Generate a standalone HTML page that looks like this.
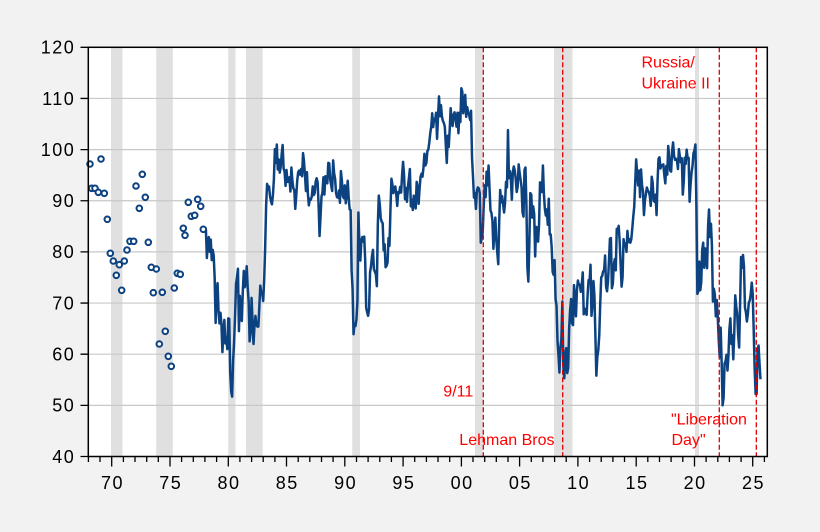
<!DOCTYPE html>
<html>
<head>
<meta charset="utf-8">
<style>
html,body{margin:0;padding:0;background:#f2f2f2;}
svg{display:block;}
text{font-family:"Liberation Sans",Arial,sans-serif;}
</style>
</head>
<body>
<svg width="820" height="532" viewBox="0 0 820 532" xmlns="http://www.w3.org/2000/svg">
<rect x="0" y="0" width="820" height="532" fill="#f2f2f2"/>
<rect x="88.3" y="47.3" width="679" height="409.2" fill="#ffffff"/>
<g fill="#e0e0e0">
<rect x="111" y="47.3" width="11.5" height="409.2"/>
<rect x="156.2" y="47.3" width="16.6" height="409.2"/>
<rect x="228.2" y="47.3" width="7.3" height="409.2"/>
<rect x="246" y="47.3" width="16.6" height="409.2"/>
<rect x="352.2" y="47.3" width="7.8" height="409.2"/>
<rect x="475" y="47.3" width="7.8" height="409.2"/>
<rect x="554" y="47.3" width="18.5" height="409.2"/>
<rect x="695" y="47.3" width="4" height="409.2"/>
</g>
<path stroke="#c8c8c8" stroke-width="1.2" fill="none" d="M88.3 98.45H767.3M88.3 149.6H767.3M88.3 200.75H767.3M88.3 251.9H767.3M88.3 303.05H767.3M88.3 354.2H767.3M88.3 405.35H767.3"/>
<polyline fill="none" stroke="#0d4281" stroke-width="2.5" stroke-linejoin="round" vector-effect="non-scaling-stroke" transform="matrix(0.97125 0 0 -5.115 204.94 661.1)" points="0,83.7 1,84.3 2,78.8 3,81.6 4,82.9 5,80 6,82.4 7,78.4 8,80.4 9,79.3 10,75 11,66.1 12,72.1 13,73.9 14,68.4 15,66 16,68.1 17,65.8 18,60.4 19,64.5 20,66.7 21,62.1 22,63.3 23,61 24,67 25,66.9 26,56.5 27,52.7 28,51.7 29,58.7 30,62.3 31,67.3 32,73.7 33,75 34,76.7 35,64.5 36,71.4 37,66.9 38,66.5 39,72.4 40,76.3 41,73.1 42,74.1 43,77.2 44,73.1 45,70.3 46,62.5 47,64.3 48,71 49,66.5 50,62 51,65.5 52,67.5 53,65.7 54,65.4 55,65.4 56,69.3 57,73.4 58,72.1 59,71.9 60,70.4 61,74.6 62,80.8 63,89.1 64,93.3 65,92.2 66,92.8 67,90.9 68,89.9 69,89.3 70,91.1 71,94.2 72,100.1 73,97.4 74,101 75,96.1 76,98.1 77,95.5 78,96.6 79,99.1 80,100.9 81,96.3 82,95.7 83,92.9 84,96 85,93.7 86,93.7 87,94.6 88,91.8 89,96.5 90,94 91,92.4 92,92.1 93,88.4 94,90.9 95,93.9 96,95.6 97,95.9 98,95.1 99,96.2 100,94.8 101,99.3 102,97.7 103,94.9 104,91.9 105,95.6 106,91.4 107,89.1 108,90.4 109,90.2 110,90.8 111,92.8 112,91.1 113,91.5 114,93.7 115,94.4 116,93.6 117,89.3 118,83.1 119,86.8 120,90.8 121,91.6 122,94.6 123,91.2 124,94.8 125,94.7 126,93.4 127,97.4 128,97.3 129,94.1 130,93 131,91.9 132,97.9 133,95.4 134,94.3 135,91.5 136,90.7 137,90.6 138,92 139,89.6 140,95.8 141,93.9 142,90.9 143,90.5 144,93 145,89.5 146,91.3 147,93.9 148,90.6 149,88.3 150,88.2 151,76.4 152,72.8 153,63.9 154,66 155,65.5 156,66.8 157,70.4 158,87.7 159,81.8 160,78.3 161,82.1 162,82.9 163,82 164,83 165,78.3 166,69.1 167,68.2 168,67.5 169,68.8 170,76 171,77.2 172,79.2 173,80.4 174,76.6 175,76.1 176,75.6 177,73.3 178,85.3 179,91 180,89.3 181,86.6 182,85.9 183,85.6 184,80.3 185,81.5 186,77 187,77.3 188,77.9 189,82.7 190,81.2 191,88.2 192,94.3 193,93.2 194,91.5 195,92.6 196,92.8 197,91.2 198,89 199,91.7 200,91.5 201,92.7 202,91.6 203,95.1 204,97.6 205,95.1 206,90.3 207,92.5 208,89.8 209,92.7 210,94.4 211,96.2 212,88.9 213,90.2 214,88.2 215,91 216,89.3 217,88.5 218,93.7 219,92.7 220,89.4 221,92.4 222,94.7 223,95.3 224,94.7 225,96.5 226,99.2 227,96.9 228,97.4 229,99.7 230,100 231,101.4 232,103.2 233,104.5 234,107.1 235,104.4 236,106 237,105.6 238,107.2 239,102.1 240,106.6 241,110.4 242,106.5 243,108.7 244,106.5 245,105.6 246,105.2 247,104.4 248,100.9 249,97.4 250,102.7 251,100.5 252,103.9 253,108.1 254,105.7 255,104.6 256,106.8 257,107.3 258,106 259,104.5 260,107.2 261,103.2 262,107.2 263,105.4 264,112 265,111.3 266,107.1 267,109.2 268,110.7 269,106.4 270,108.3 271,107.3 272,106.8 273,105.8 274,107.6 275,98.4 276,94.7 277,90.6 278,91.5 279,88.4 280,92 281,92.6 282,92.4 283,91.5 284,81.8 285,82.7 286,83.9 287,88.8 288,93 289,90.7 290,95.7 291,93 292,96.9 293,92.4 294,88.1 295,87.6 296,86.1 297,80.6 298,84.2 299,86.7 300,82.4 301,79.9 302,77.6 303,86 304,92.1 305,89.7 306,90.9 307,89.3 308,87.7 309,89.6 310,93.7 311,92.6 312,103.8 313,94.4 314,95.8 315,94.2 316,90.2 317,95.6 318,96.7 319,95.9 320,94.2 321,91.7 322,92.8 323,97.1 324,95.5 325,94.1 326,92.6 327,87.7 328,86.9 329,96 330,96.5 331,89.1 332,76.9 333,74.2 334,81.6 335,91.5 336,91.2 337,86.7 338,88.9 339,87.4 340,79.1 341,84.9 342,84.7 343,82 344,85.4 345,93.6 346,92.1 347,91.7 348,96.9 349,91.3 350,88.4 351,87.1 352,88.3 353,85.3 354,90.4 355,83.4 356,83.4 357,80.9 358,76.1 359,75.5 360,78.4 361,70.8 362,69.5 363,62.6 364,59.8 365,56.4 366,61.2 367,63 368,70.3 369,57.6 370,55.3 371,60.1 372,61.2 373,56.3 374,57.3 375,65.1 376,68.7 377,70.8 378,66 379,65.7 380,73.5 381,70.6 382,67.4 383,72.5 384,74.4 385,73.6 386,73.6 387,72.2 388,73.6 389,76 390,67.8 391,68.9 392,68.2 393,67.7 394,71.6 395,74.5 396,74.2 397,77.5 398,67.5 399,69.8 400,74.3 401,71.5 402,63.7 403,55.8 404,59.5 405,60.8 406,63.7 407,69.9 408,75 409,75.3 410,76.2 411,76.4 412,79.3 413,73.2 414,72.3 415,74.3 416,78.3 417,82.6 418,82.7 419,72.9 420,73.8 421,77.6 422,78.6 423,76.4 424,84.5 425,84.1 426,85.1 427,82.1 428,77.5 429,73.2 430,75.1 431,82.5 432,81.2 433,81.6 434,80 435,84.1 436,81.9 437,82.5 438,81.8 439,82.5 440,84.6 441,86.9 442,88.8 443,93.6 444,98.1 445,95.4 446,93 447,95.9 448,90.7 449,96.1 450,93.1 451,91.9 452,87.2 453,90 454,91.3 455,92.6 456,92 457,91.7 458,91 459,89 460,94.7 461,93.5 462,90 463,89.8 464,91.2 465,87.2 466,93.8 467,98.2 468,98.5 469,96.3 470,96.9 471,97 472,97.1 473,95 474,93.4 475,96.8 476,95.1 477,100.7 478,98.5 479,95.9 480,95.7 481,99.7 482,101.4 483,98.8 484,98 485,98.2 486,97.9 487,96.2 488,100.1 489,98.6 490,97.5 491,98.3 492,91.2 493,93.8 494,98.4 495,97.2 496,100 497,98.2 498,98.4 499,89.8 500,93.2 501,95.5 502,96.8 503,99.3 504,99.8 505,101 506,89.1 507,71.8 508,72.3 509,78.1 510,72.5 511,74.1 512,80.4 513,81.8 514,76.9 515,80.7 516,79 517,76.8 518,84.9 519,88.3 520,82.9 521,85.5 522,81.2 523,70.3 524,72.8 525,71.7 526,67.4 527,70.6 528,67.2 529,62.8 530,59.4 531,65.2 532,58.4 533,50 534,51.5 535,58.2 536,58.6 537,59.9 538,56.8 539,59.7 540,64.9 541,67 542,62 543,63.7 544,59 545,64.2 546,71.5 547,69.4 548,67.9 549,63.8 550,61.3 551,69.7 552,79 553,76.9 554,79.4 555,77.2 556,69.1 557,68.2 558,66.4 559,67.9 560,70.1 561,70.5 562,71.8 563,74 564,71.7 565,64.7 566,57 567,52.2 568,52.2 569,60.7 570,61.7 571,58.2 572,55.1"/>
<g fill="#ffffff" stroke="#0d4281" stroke-width="2">
<circle cx="90" cy="164" r="2.8"/>
<circle cx="101" cy="159" r="2.8"/>
<circle cx="91.7" cy="188.3" r="2.8"/>
<circle cx="95" cy="188.3" r="2.8"/>
<circle cx="98.3" cy="192.3" r="2.8"/>
<circle cx="104.3" cy="193.3" r="2.8"/>
<circle cx="107.3" cy="219.3" r="2.8"/>
<circle cx="110.3" cy="253.3" r="2.8"/>
<circle cx="113.3" cy="261" r="2.8"/>
<circle cx="116.3" cy="275.3" r="2.8"/>
<circle cx="119.3" cy="264.7" r="2.8"/>
<circle cx="121.7" cy="290.3" r="2.8"/>
<circle cx="124.3" cy="261" r="2.8"/>
<circle cx="127" cy="250" r="2.8"/>
<circle cx="130" cy="241.3" r="2.8"/>
<circle cx="133.7" cy="241.3" r="2.8"/>
<circle cx="136" cy="186" r="2.8"/>
<circle cx="139.3" cy="208.3" r="2.8"/>
<circle cx="142.3" cy="174.3" r="2.8"/>
<circle cx="145.3" cy="197.3" r="2.8"/>
<circle cx="148.3" cy="242.3" r="2.8"/>
<circle cx="151.3" cy="267.3" r="2.8"/>
<circle cx="153.3" cy="292.7" r="2.8"/>
<circle cx="156.3" cy="269" r="2.8"/>
<circle cx="159.3" cy="344" r="2.8"/>
<circle cx="162.3" cy="292.3" r="2.8"/>
<circle cx="165.3" cy="331.3" r="2.8"/>
<circle cx="168.3" cy="356.3" r="2.8"/>
<circle cx="171.3" cy="366.3" r="2.8"/>
<circle cx="174.3" cy="288" r="2.8"/>
<circle cx="177.3" cy="273.3" r="2.8"/>
<circle cx="180.3" cy="274.3" r="2.8"/>
<circle cx="183.3" cy="228.3" r="2.8"/>
<circle cx="185" cy="235.3" r="2.8"/>
<circle cx="188.3" cy="202.3" r="2.8"/>
<circle cx="191.3" cy="216.3" r="2.8"/>
<circle cx="194.7" cy="215.3" r="2.8"/>
<circle cx="197.7" cy="199.3" r="2.8"/>
<circle cx="200.7" cy="206.3" r="2.8"/>
<circle cx="203.3" cy="229.3" r="2.8"/>
</g>
<path stroke="#e00000" stroke-width="1.3" stroke-dasharray="5,2.5" fill="none" d="M483.3 47.3V456.5M562.7 47.3V456.5M719.3 47.3V456.5M756.3 47.3V456.5"/>
<g fill="#ff0000" font-size="16">
<text x="443.3" y="396.7">9/11</text>
<text x="459.3" y="445">Lehman Bros</text>
<text x="641.5" y="67.3">Russia/</text>
<text x="641.5" y="88.7">Ukraine II</text>
<text x="671" y="424.3">"Liberation</text>
<text x="671.5" y="445">Day"</text>
</g>
<rect x="88.3" y="47.3" width="679" height="409.2" fill="none" stroke="#000" stroke-width="1.5"/>
<path stroke="#000" stroke-width="1.3" fill="none" d="M80.5 47.3H88.3M80.5 98.45H88.3M80.5 149.6H88.3M80.5 200.75H88.3M80.5 251.9H88.3M80.5 303.05H88.3M80.5 354.2H88.3M80.5 405.35H88.3M80.5 456.5H88.3"/>
<g font-size="18" fill="#000" text-anchor="end" letter-spacing="1.5">
<text x="75.3" y="53.6">120</text>
<text x="75.3" y="104.8">110</text>
<text x="75.3" y="155.9">100</text>
<text x="75.3" y="207">90</text>
<text x="75.3" y="258.2">80</text>
<text x="75.3" y="309.3">70</text>
<text x="75.3" y="360.5">60</text>
<text x="75.3" y="411.6">50</text>
<text x="75.3" y="462.8">40</text>
</g>
<path stroke="#000" stroke-width="1.3" fill="none" d="M88.4 456.5v5.5M100 456.5v5.5M123.4 456.5v5.5M135 456.5v5.5M146.7 456.5v5.5M158.3 456.5v5.5M181.6 456.5v5.5M193.3 456.5v5.5M204.9 456.5v5.5M216.6 456.5v5.5M239.9 456.5v5.5M251.6 456.5v5.5M263.2 456.5v5.5M274.9 456.5v5.5M298.2 456.5v5.5M309.8 456.5v5.5M321.5 456.5v5.5M333.1 456.5v5.5M356.5 456.5v5.5M368.1 456.5v5.5M379.8 456.5v5.5M391.4 456.5v5.5M414.7 456.5v5.5M426.4 456.5v5.5M438 456.5v5.5M449.7 456.5v5.5M473 456.5v5.5M484.7 456.5v5.5M496.3 456.5v5.5M508 456.5v5.5M531.3 456.5v5.5M542.9 456.5v5.5M554.6 456.5v5.5M566.2 456.5v5.5M589.6 456.5v5.5M601.2 456.5v5.5M612.9 456.5v5.5M624.5 456.5v5.5M647.8 456.5v5.5M659.5 456.5v5.5M671.1 456.5v5.5M682.8 456.5v5.5M706.1 456.5v5.5M717.8 456.5v5.5M729.4 456.5v5.5M741.1 456.5v5.5M764.4 456.5v5.5M111.7 456.5v10M170 456.5v10M228.3 456.5v10M286.5 456.5v10M344.8 456.5v10M403.1 456.5v10M461.4 456.5v10M519.6 456.5v10M577.9 456.5v10M636.2 456.5v10M694.5 456.5v10M752.7 456.5v10"/>
<g font-size="18" fill="#000" text-anchor="middle" letter-spacing="1.5">
<text x="112.5" y="489">70</text>
<text x="170.8" y="489">75</text>
<text x="229" y="489">80</text>
<text x="287.3" y="489">85</text>
<text x="345.6" y="489">90</text>
<text x="403.9" y="489">95</text>
<text x="462.1" y="489">00</text>
<text x="520.4" y="489">05</text>
<text x="578.7" y="489">10</text>
<text x="637" y="489">15</text>
<text x="695.2" y="489">20</text>
<text x="753.5" y="489">25</text>
</g>
</svg>
</body>
</html>
